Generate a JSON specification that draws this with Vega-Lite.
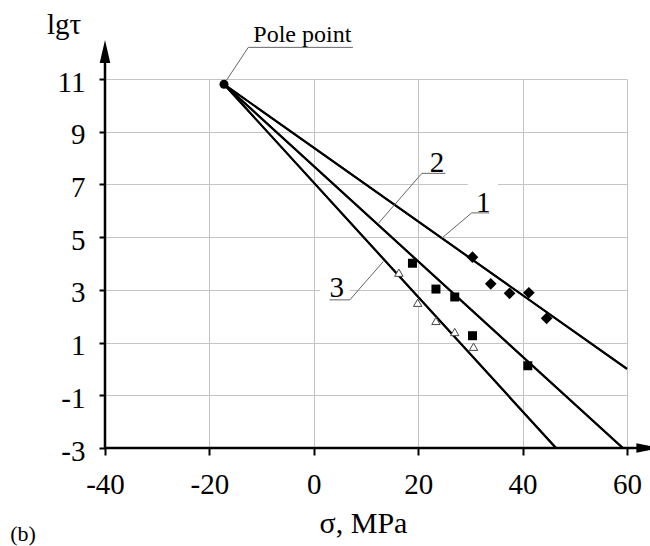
{
  "$schema": "https://vega.github.io/schema/vega-lite/v6.json",
  "width": 522,
  "height": 369,
  "autosize": {"type": "none"},
  "padding": {"left": 105, "top": 79, "right": 23, "bottom": 98},
  "background": "white",
  "config": {"view": {"stroke": null}, "font": "Liberation Serif, Times New Roman, serif"},
  "datasets": {
    "one": [{}],
    "lines": [
      {"curve": "1", "sigma": -17.2, "lgt": 10.8},
      {"curve": "1", "sigma": 60.0, "lgt": 0.0},
      {"curve": "2", "sigma": -17.2, "lgt": 10.8},
      {"curve": "2", "sigma": 59.2, "lgt": -3.0},
      {"curve": "3", "sigma": -17.2, "lgt": 10.8},
      {"curve": "3", "sigma": 46.4, "lgt": -3.0}
    ],
    "leaders": [
      {"id": "p", "o": 0, "sigma": -16.7, "lgt": 10.96},
      {"id": "p", "o": 1, "sigma": -12.55, "lgt": 12.2},
      {"id": "p", "o": 2, "sigma": 7.5, "lgt": 12.2},
      {"id": "1", "o": 0, "sigma": 24.5, "lgt": 4.96},
      {"id": "1", "o": 1, "sigma": 30.25, "lgt": 5.92},
      {"id": "1", "o": 2, "sigma": 33.6, "lgt": 5.92},
      {"id": "2", "o": 0, "sigma": 12.4, "lgt": 5.53},
      {"id": "2", "o": 1, "sigma": 20.7, "lgt": 7.42},
      {"id": "2", "o": 2, "sigma": 25.2, "lgt": 7.42},
      {"id": "3", "o": 0, "sigma": 13.3, "lgt": 4.07},
      {"id": "3", "o": 1, "sigma": 6.9, "lgt": 2.62},
      {"id": "3", "o": 2, "sigma": 3.0, "lgt": 2.62}
    ],
    "points": [
      {"series": "1", "sigma": 30.4, "lgt": 4.24},
      {"series": "1", "sigma": 33.9, "lgt": 3.23},
      {"series": "1", "sigma": 37.5, "lgt": 2.87},
      {"series": "1", "sigma": 41.2, "lgt": 2.89},
      {"series": "1", "sigma": 44.6, "lgt": 1.92},
      {"series": "2", "sigma": 18.9, "lgt": 4.01},
      {"series": "2", "sigma": 23.4, "lgt": 3.03},
      {"series": "2", "sigma": 27.0, "lgt": 2.73},
      {"series": "2", "sigma": 30.4, "lgt": 1.26},
      {"series": "2", "sigma": 41.0, "lgt": 0.12},
      {"series": "3", "sigma": 16.3, "lgt": 3.65},
      {"series": "3", "sigma": 19.9, "lgt": 2.51},
      {"series": "3", "sigma": 23.4, "lgt": 1.82},
      {"series": "3", "sigma": 27.0, "lgt": 1.40},
      {"series": "3", "sigma": 30.6, "lgt": 0.84}
    ],
    "curveLabels": [
      {"label": "1", "sigma": 32.45, "lgt": 5.97},
      {"label": "2", "sigma": 23.6, "lgt": 7.47},
      {"label": "3", "sigma": 4.39, "lgt": 2.74}
    ]
  },
  "layer": [
    {
      "data": {"name": "lines"},
      "mark": {"type": "line", "color": "black", "strokeWidth": 2},
      "encoding": {
        "x": {
          "field": "sigma", "type": "quantitative",
          "scale": {"domain": [-40, 60], "nice": false, "zero": false},
          "axis": {
            "values": [-40, -20, 0, 20, 40, 60], "title": null, "grid": true,
            "gridColor": "#c4c4c4", "gridWidth": 1, "domain": false,
            "ticks": true, "tickColor": "black", "tickWidth": 2, "tickSize": 7,
            "labelFont": "Liberation Serif, Times New Roman, serif", "labelFontSize": 29, "labelColor": "black",
            "labelPadding": 15, "labelFlush": false, "labelOverlap": false,
            "labelExpr": "datum.value < 0 ? '-' + abs(datum.value) : '' + datum.value"
          }
        },
        "y": {
          "field": "lgt", "type": "quantitative",
          "scale": {"domain": [-3, 11], "nice": false, "zero": false},
          "axis": {
            "values": [-3, -1, 1, 3, 5, 7, 9, 11], "title": null, "grid": true,
            "gridColor": "#c4c4c4", "gridWidth": 1, "domain": false,
            "ticks": true, "tickColor": "black", "tickWidth": 2, "tickSize": 6,
            "labelFont": "Liberation Serif, Times New Roman, serif", "labelFontSize": 29, "labelColor": "black",
            "labelPadding": 14, "labelOffset": 3, "labelFlush": false, "labelOverlap": false,
            "labelExpr": "datum.value < 0 ? '-' + abs(datum.value) : '' + datum.value"
          }
        },
        "detail": {"field": "curve"}
      }
    },
    {
      "data": {"name": "one"},
      "mark": {"type": "rect", "color": "white"},
      "encoding": {
        "x": {"datum": 1.2, "type": "quantitative"},
        "x2": {"datum": 6.9},
        "y": {"datum": 2.82, "type": "quantitative"},
        "y2": {"datum": 3.18}
      }
    },
    {
      "data": {"name": "one"},
      "mark": {"type": "rect", "color": "white"},
      "encoding": {
        "x": {"datum": 29.5, "type": "quantitative"},
        "x2": {"datum": 35.3},
        "y": {"datum": 6.82, "type": "quantitative"},
        "y2": {"datum": 7.18}
      }
    },
    {
      "data": {"name": "lines"},
      "mark": {"type": "line", "color": "black", "strokeWidth": 2},
      "encoding": {
        "x": {"field": "sigma", "type": "quantitative"},
        "y": {"field": "lgt", "type": "quantitative"},
        "detail": {"field": "curve"}
      }
    },
    {
      "data": {"name": "leaders"},
      "mark": {"type": "line", "color": "#666666", "strokeWidth": 1},
      "encoding": {
        "x": {"field": "sigma", "type": "quantitative"},
        "y": {"field": "lgt", "type": "quantitative"},
        "detail": {"field": "id"},
        "order": {"field": "o"}
      }
    },
    {
      "data": {"name": "one"},
      "mark": {"type": "rule", "color": "black", "strokeWidth": 2.5},
      "encoding": {
        "x": {"datum": -40, "type": "quantitative"},
        "y": {"datum": -3, "type": "quantitative"},
        "y2": {"datum": 11.75}
      }
    },
    {
      "data": {"name": "one"},
      "mark": {"type": "rule", "color": "black", "strokeWidth": 2.5},
      "encoding": {
        "x": {"datum": -40, "type": "quantitative"},
        "x2": {"datum": 62.5},
        "y": {"datum": -3, "type": "quantitative"}
      }
    },
    {
      "data": {"name": "one"},
      "mark": {"type": "point", "shape": "M0,-1L0.46,1L-0.46,1Z", "filled": true, "size": 529, "color": "black", "opacity": 1},
      "encoding": {
        "x": {"datum": -40, "type": "quantitative"},
        "y": {"datum": 12.04, "type": "quantitative"}
      }
    },
    {
      "data": {"name": "one"},
      "mark": {"type": "point", "shape": "M1,0L-1,-0.42L-1,0.42Z", "filled": true, "size": 529, "color": "black", "opacity": 1},
      "encoding": {
        "x": {"datum": 64.0, "type": "quantitative"},
        "y": {"datum": -3, "type": "quantitative"}
      }
    },
    {
      "data": {"name": "one"},
      "mark": {"type": "point", "shape": "circle", "filled": true, "size": 81, "color": "black", "opacity": 1},
      "encoding": {
        "x": {"datum": -17.2, "type": "quantitative"},
        "y": {"datum": 10.8, "type": "quantitative"}
      }
    },
    {
      "data": {"name": "points"},
      "transform": [{"filter": "datum.series == '1'"}],
      "mark": {"type": "point", "shape": "diamond", "filled": true, "size": 137, "color": "black", "opacity": 1},
      "encoding": {
        "x": {"field": "sigma", "type": "quantitative"},
        "y": {"field": "lgt", "type": "quantitative"}
      }
    },
    {
      "data": {"name": "points"},
      "transform": [{"filter": "datum.series == '2'"}],
      "mark": {"type": "point", "shape": "square", "filled": true, "size": 81, "color": "black", "opacity": 1},
      "encoding": {
        "x": {"field": "sigma", "type": "quantitative"},
        "y": {"field": "lgt", "type": "quantitative"}
      }
    },
    {
      "data": {"name": "points"},
      "transform": [{"filter": "datum.series == '3'"}],
      "mark": {"type": "point", "shape": "triangle-up", "filled": false, "fill": "white", "fillOpacity": 1, "stroke": "#444444", "strokeWidth": 1, "size": 70, "opacity": 1},
      "encoding": {
        "x": {"field": "sigma", "type": "quantitative"},
        "y": {"field": "lgt", "type": "quantitative"}
      }
    },
    {
      "data": {"name": "curveLabels"},
      "mark": {"type": "text", "font": "Liberation Serif, Times New Roman, serif", "fontSize": 29, "color": "black", "align": "center", "baseline": "alphabetic"},
      "encoding": {
        "x": {"field": "sigma", "type": "quantitative"},
        "y": {"field": "lgt", "type": "quantitative"},
        "text": {"field": "label"}
      }
    },
    {
      "data": {"values": [{"label": "Pole point", "sigma": -2.2, "lgt": 12.42}]},
      "mark": {"type": "text", "font": "Liberation Serif, Times New Roman, serif", "fontSize": 24, "color": "black", "align": "center", "baseline": "alphabetic"},
      "encoding": {
        "x": {"field": "sigma", "type": "quantitative"},
        "y": {"field": "lgt", "type": "quantitative"},
        "text": {"field": "label"}
      }
    },
    {
      "data": {"values": [{"label": "lgτ", "sigma": -47.85, "lgt": 12.70}]},
      "mark": {"type": "text", "font": "Liberation Serif, Times New Roman, serif", "fontSize": 29, "color": "black", "align": "center", "baseline": "alphabetic"},
      "encoding": {
        "x": {"field": "sigma", "type": "quantitative"},
        "y": {"field": "lgt", "type": "quantitative"},
        "text": {"field": "label"}
      }
    },
    {
      "data": {"values": [{"label": "σ, MPa", "sigma": 9.52, "lgt": -6.21}]},
      "mark": {"type": "text", "font": "Liberation Serif, Times New Roman, serif", "fontSize": 30, "color": "black", "align": "center", "baseline": "alphabetic"},
      "encoding": {
        "x": {"field": "sigma", "type": "quantitative"},
        "y": {"field": "lgt", "type": "quantitative"},
        "text": {"field": "label"}
      }
    },
    {
      "data": {"values": [{"label": "(b)", "sigma": -55.7, "lgt": -6.52}]},
      "mark": {"type": "text", "font": "Liberation Serif, Times New Roman, serif", "fontSize": 22, "color": "black", "align": "center", "baseline": "alphabetic"},
      "encoding": {
        "x": {"field": "sigma", "type": "quantitative"},
        "y": {"field": "lgt", "type": "quantitative"},
        "text": {"field": "label"}
      }
    }
  ]
}
